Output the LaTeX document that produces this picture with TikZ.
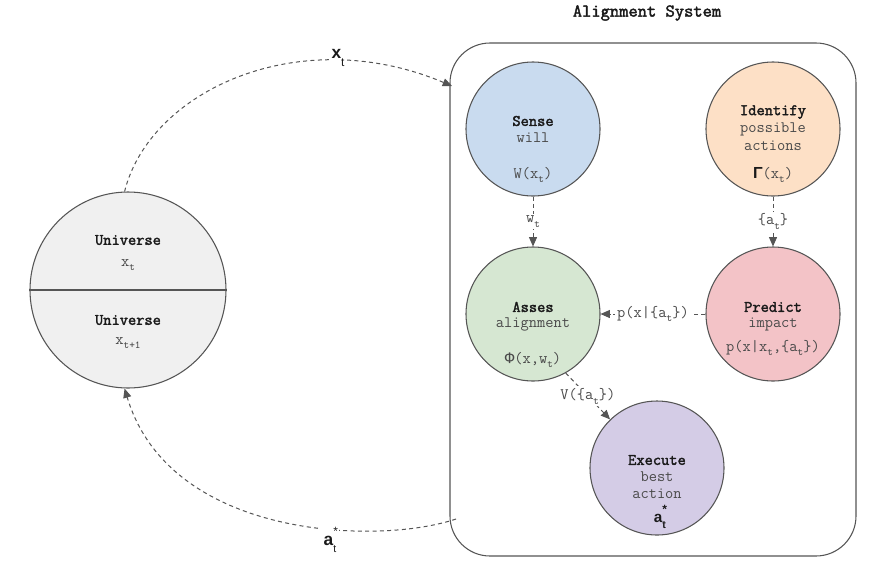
\documentclass[tikz,border=0pt]{standalone}
\usepackage{fontspec}
\setmainfont{Liberation Mono}
\newfontfamily\lsans{Liberation Sans}
\newfontfamily\ttbold{Latin Modern Mono}[FakeBold=2.2]
\usetikzlibrary{arrows.meta}
\definecolor{edgec}{HTML}{555555}
\definecolor{txtc}{HTML}{4A4A4A}
\definecolor{ttlc}{HTML}{1A1A1A}
\definecolor{senseC}{HTML}{C9DBEF}
\definecolor{identC}{HTML}{FDE0C6}
\definecolor{assesC}{HTML}{D6E7D2}
\definecolor{predC}{HTML}{F3C3C7}
\definecolor{execC}{HTML}{D4CCE6}
\definecolor{uniC}{HTML}{F0F0F0}
\newcommand\lsub[1]{\raisebox{-0.7ex}{\fontsize{8}{9}\selectfont #1}}
\newcommand\lsupsub[2]{\rlap{\raisebox{1.1ex}{\fontsize{9}{9}\selectfont #1}}\raisebox{-0.8ex}{\fontsize{8}{9}\selectfont #2}}
\begin{document}
\begin{tikzpicture}[x=0.75pt,y=-0.75pt,
  circ/.style={circle,draw=edgec,line width=0.8pt,minimum size=100.5pt,inner sep=0pt},
  ttl/.style={font=\ttbold\fontsize{12}{13}\selectfont,text=ttlc,inner sep=0pt},
  subt/.style={font=\ttfamily\fontsize{12}{13}\selectfont,text=txtc,inner sep=0pt},
  fml/.style={font=\ttfamily\fontsize{12}{13}\selectfont,text=txtc,inner sep=0pt},
  conn/.style={draw=edgec,line width=0.75pt,dash pattern=on 3pt off 2.5pt,-{Triangle[length=7pt,width=6pt]}},
  lbl/.style={font=\ttfamily\fontsize{12}{13}\selectfont,text=txtc,fill=white,inner sep=1.5pt},
  blbl/.style={font=\lsans\fontsize{13}{14}\selectfont,text=ttlc,fill=white,inner sep=2pt}
]
\useasboundingbox (0,0) rectangle (882,569);

% title
\node[font=\ttbold\fontsize{13.5}{15}\selectfont,text=ttlc] (title) at (647,13) {Alignment System};

% system box
\draw[edgec,line width=0.8pt,rounded corners=30pt] (450,43) rectangle (856,556);

% circles
\node[circ,fill=senseC] (sense) at (533,129) {};
\node[circ,fill=identC] (ident) at (773,129) {};
\node[circ,fill=assesC] (asses) at (533,314) {};
\node[circ,fill=predC]  (pred)  at (773,314) {};
\node[circ,fill=execC]  (exec)  at (657,468) {};
\node[circle,draw=edgec,line width=0.8pt,fill=uniC,minimum size=147pt,inner sep=0pt] (uni) at (128,290) {};
\draw[edgec,line width=0.8pt] (uni.west) -- (uni.east);

% texts
\node[ttl]  (senseT) at (533,121) {Sense};
\node[subt] (senseS) at (533,138) {will};
\node[fml]  (senseF) at (533,175) {W(x\lsub{t})};

\node[ttl]  (identT)  at (773,112) {Identify};
\node[subt] (identS1) at (773,129) {possible};
\node[subt] (identS2) at (773,146) {actions};
\node[fml]  (identF)  at (773,175) {\textcolor{ttlc}{\lsans\fontsize{12}{12}\selectfont\textbf{Γ}}(x\lsub{t})};

\node[ttl]  (assesT) at (533,307) {Asses};
\node[subt] (assesS) at (533,324) {alignment};
\node[fml]  (assesF) at (533,360) {{\rmfamily Φ}(x,w\lsub{t})};

\node[ttl]  (predT) at (773,307) {Predict};
\node[subt] (predS) at (773,324) {impact};
\node[fml]  (predF) at (773,348) {p(x|x\lsub{t},\{a\lsub{t}\})};

\node[ttl]  (execT)  at (657,460) {Execute};
\node[subt] (execS1) at (657,477) {best};
\node[subt] (execS2) at (657,494) {action};
\node[font=\lsans\fontsize{11.5}{12}\selectfont\bfseries,text=ttlc,inner sep=0pt] (execF) at (660,517) {a\lsupsub{*}{t}};

\node[ttl]  (uniT1) at (128,240) {Universe};
\node[subt] (uniS1) at (128,265) {x\lsub{t}};
\node[ttl]  (uniT2) at (128,320) {Universe};
\node[subt] (uniS2) at (128,343) {x\lsub{t+1}};

% internal connectors
\draw[conn] (sense) -- node[lbl] (wlab) {w\lsub{t}} (asses);
\draw[conn] (ident) -- node[lbl] (alab) {\{a\lsub{t}\}} (pred);
\draw[conn] (pred) -- node[lbl] (plab) {p(x|\{a\lsub{t}\})} (asses);
\draw[conn] (asses.-61) -- node[lbl] (vlab) {V(\{a\lsub{t}\})} (exec.134);

% outer loop
\coordinate (boxin) at (452,86);
\coordinate (boxout) at (456,519);
\draw[conn] (uni.92) .. controls (150,90) and (300,22) .. (boxin);
\draw[conn] (boxout) .. controls (380,545) and (170,540) .. (uni.268);
\node[blbl] (xlab) at (338,58) {\textbf{x}\raisebox{-0.9ex}{\fontsize{9}{9}\selectfont t}};
\node[blbl] (alabel) at (330,540) {\textbf{a}\lsupsub{*}{t}};
\end{tikzpicture}
\end{document}
